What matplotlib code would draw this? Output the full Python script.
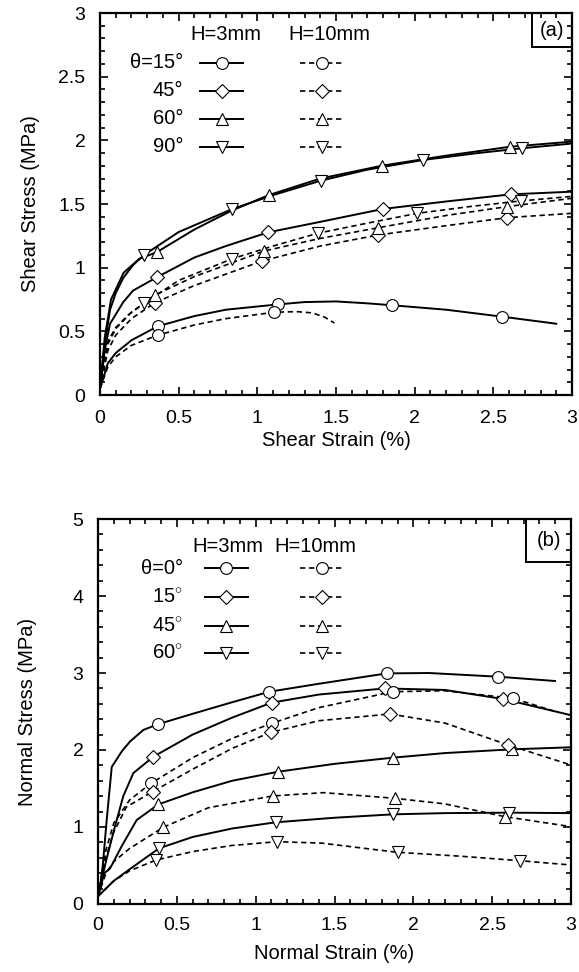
import matplotlib
matplotlib.use("Agg")
import matplotlib.pyplot as plt
from matplotlib.lines import Line2D
from matplotlib.patches import Rectangle
from matplotlib.ticker import MultipleLocator

plt.rcParams['font.family'] = ['Liberation Sans', 'DejaVu Sans']
plt.rcParams['mathtext.fontset'] = 'custom'
plt.rcParams['mathtext.rm'] = 'Liberation Sans'

# ---------------- Panel (a): shear ----------------
a_labels = ["\u03b8=15\u00b0", "45\u00b0", "60\u00b0", "90\u00b0"]
a_markers = ["o", "D", "^", "v"]

# H=3mm (solid)
a3_15_x = [0, 0.05, 0.1, 0.2, 0.367, 0.6, 0.8, 1.134, 1.3, 1.5, 1.7, 1.856, 2.2, 2.558, 2.9]
a3_15_y = [0.05, 0.25, 0.33, 0.43, 0.54, 0.62, 0.67, 0.712, 0.73, 0.735, 0.72, 0.705, 0.67, 0.615, 0.56]
a3_15_mx = [0.367, 1.134, 1.856, 2.558]
a3_15_my = [0.54, 0.712, 0.705, 0.615]

a3_45_x = [0, 0.03, 0.064, 0.148, 0.21, 0.36, 0.6, 0.8, 1.07, 1.4, 1.797, 2.2, 2.611, 3.0]
a3_45_y = [0.05, 0.35, 0.56, 0.73, 0.82, 0.924, 1.08, 1.17, 1.278, 1.36, 1.461, 1.52, 1.576, 1.597]
a3_45_mx = [0.36, 1.07, 1.797, 2.611]
a3_45_my = [0.924, 1.278, 1.461, 1.576]

a3_60_x = [0, 0.03, 0.07, 0.15, 0.25, 0.36, 0.6, 0.84, 1.075, 1.4, 1.792, 2.2, 2.608, 3.0]
a3_60_y = [0.05, 0.45, 0.75, 0.96, 1.07, 1.121, 1.3, 1.45, 1.571, 1.7, 1.801, 1.88, 1.95, 1.99]
a3_60_mx = [0.36, 1.075, 1.792, 2.608]
a3_60_my = [1.121, 1.571, 1.801, 1.95]

a3_90_x = [0, 0.03, 0.064, 0.1, 0.148, 0.21, 0.28, 0.5, 0.837, 1.1, 1.405, 1.7, 2.054, 2.4, 2.683, 3.0]
a3_90_y = [0.05, 0.4, 0.67, 0.8, 0.92, 1.02, 1.10, 1.28, 1.459, 1.57, 1.684, 1.77, 1.846, 1.9, 1.938, 1.975]
a3_90_mx = [0.28, 0.837, 1.405, 2.054, 2.683]
a3_90_my = [1.10, 1.459, 1.684, 1.846, 1.938]

# H=10mm (dashed)
a10_15_x = [0, 0.05, 0.1, 0.2, 0.367, 0.6, 0.8, 1.108, 1.25, 1.35, 1.43, 1.49]
a10_15_y = [0.05, 0.22, 0.3, 0.39, 0.47, 0.55, 0.6, 0.65, 0.655, 0.645, 0.61, 0.565]
a10_15_mx = [0.367, 1.108]
a10_15_my = [0.47, 0.65]

a10_45_x = [0, 0.05, 0.1, 0.2, 0.35, 0.6, 1.032, 1.4, 1.77, 2.2, 2.59, 3.0]
a10_45_y = [0.05, 0.35, 0.47, 0.6, 0.725, 0.86, 1.053, 1.17, 1.257, 1.33, 1.393, 1.427]
a10_45_mx = [0.35, 1.032, 1.77, 2.59]
a10_45_my = [0.725, 1.053, 1.257, 1.393]

a10_60_x = [0, 0.05, 0.1, 0.2, 0.35, 0.6, 1.043, 1.4, 1.77, 2.2, 2.59, 3.0]
a10_60_y = [0.05, 0.4, 0.52, 0.65, 0.786, 0.93, 1.131, 1.23, 1.314, 1.41, 1.48, 1.545]
a10_60_mx = [0.35, 1.043, 1.77, 2.59]
a10_60_my = [0.786, 1.131, 1.314, 1.48]

a10_90_x = [0, 0.05, 0.1, 0.18, 0.28, 0.5, 0.84, 1.1, 1.383, 1.7, 2.017, 2.35, 2.674, 3.0]
a10_90_y = [0.05, 0.42, 0.53, 0.63, 0.72, 0.9, 1.07, 1.17, 1.27, 1.35, 1.427, 1.48, 1.524, 1.56]
a10_90_mx = [0.28, 0.84, 1.383, 2.017, 2.674]
a10_90_my = [0.72, 1.07, 1.27, 1.427, 1.524]

# ---------------- Panel (b): normal ----------------
b_labels = ["\u03b8=0\u00b0", "15$^{\\circ}$", "45$^{\\circ}$", "60$^{\\circ}$"]
b_markers = ["o", "D", "^", "v"]

b3_0_x = [0, 0.013, 0.03, 0.055, 0.087, 0.15, 0.203, 0.287, 0.379, 0.6, 0.85, 1.087, 1.4, 1.831, 2.1, 2.539, 2.899]
b3_0_y = [0.1, 0.22, 0.5, 1.09, 1.78, 1.98, 2.11, 2.26, 2.334, 2.47, 2.62, 2.757, 2.86, 2.995, 3.0, 2.952, 2.896]
b3_0_mx = [0.379, 1.087, 1.831, 2.539]
b3_0_my = [2.334, 2.757, 2.995, 2.952]

b3_15_x = [0, 0.05, 0.1, 0.16, 0.224, 0.351, 0.6, 0.85, 1.101, 1.4, 1.82, 2.2, 2.571, 2.994]
b3_15_y = [0.1, 0.55, 0.95, 1.4, 1.70, 1.913, 2.2, 2.42, 2.615, 2.72, 2.80, 2.78, 2.662, 2.455]
b3_15_mx = [0.351, 1.101, 1.82, 2.571]
b3_15_my = [1.913, 2.615, 2.80, 2.662]

b3_45_x = [0, 0.04, 0.076, 0.15, 0.245, 0.383, 0.6, 0.85, 1.144, 1.5, 1.869, 2.2, 2.628, 3.0]
b3_45_y = [0.1, 0.4, 0.46, 0.75, 1.09, 1.294, 1.45, 1.6, 1.718, 1.82, 1.90, 1.96, 2.009, 2.035]
b3_45_mx = [0.383, 1.144, 1.869, 2.628]
b3_45_my = [1.294, 1.718, 1.90, 2.009]

b3_60_x = [0, 0.1, 0.2, 0.387, 0.6, 0.85, 1.129, 1.5, 1.869, 2.2, 2.609, 3.0]
b3_60_y = [0.1, 0.3, 0.45, 0.723, 0.87, 0.98, 1.061, 1.12, 1.164, 1.18, 1.186, 1.18]
b3_60_mx = [0.387, 1.129, 1.869, 2.609]
b3_60_my = [0.723, 1.061, 1.164, 1.186]

b10_0_x = [0, 0.05, 0.1, 0.2, 0.336, 0.6, 0.85, 1.101, 1.4, 1.869, 2.2, 2.634, 2.9]
b10_0_y = [0.1, 0.7, 1.05, 1.35, 1.567, 1.9, 2.15, 2.346, 2.55, 2.757, 2.77, 2.671, 2.5]
b10_0_mx = [0.336, 1.101, 1.869, 2.634]
b10_0_my = [1.567, 2.346, 2.757, 2.671]

b10_15_x = [0, 0.05, 0.097, 0.18, 0.347, 0.6, 0.85, 1.095, 1.4, 1.852, 2.2, 2.602, 3.0]
b10_15_y = [0.1, 0.6, 0.92, 1.26, 1.459, 1.75, 2.02, 2.229, 2.38, 2.468, 2.35, 2.065, 1.805]
b10_15_mx = [0.347, 1.095, 1.852, 2.602]
b10_15_my = [1.459, 2.229, 2.468, 2.065]

b10_45_x = [0, 0.05, 0.1, 0.2, 0.414, 0.7, 1.108, 1.43, 1.884, 2.2, 2.581, 3.0]
b10_45_y = [0.1, 0.4, 0.55, 0.72, 0.996, 1.25, 1.403, 1.446, 1.372, 1.3, 1.134, 1.004]
b10_45_mx = [0.414, 1.108, 1.884, 2.581]
b10_45_my = [0.996, 1.403, 1.372, 1.134]

b10_60_x = [0, 0.1, 0.2, 0.368, 0.6, 0.85, 1.137, 1.42, 1.7, 1.901, 2.3, 2.676, 3.0]
b10_60_y = [0.1, 0.3, 0.43, 0.571, 0.68, 0.76, 0.809, 0.79, 0.72, 0.671, 0.62, 0.562, 0.506]
b10_60_mx = [0.368, 1.137, 1.901, 2.676]
b10_60_my = [0.571, 0.809, 0.671, 0.562]

# ---------------- drawing ----------------
DASH = (0, (3.2, 2.2))
MS = {"o": 8.5, "D": 7.5, "^": 8.5, "v": 8.5}
FS_TICK = 14
FS_LABEL = 14.5
FS_LEG = 14.5


def draw_series(ax, x, y, mx, my, marker, dashed):
    ls = DASH if dashed else '-'
    lw = 1.2 if dashed else 1.4
    ax.plot(x, y, color='black', linestyle=ls, linewidth=lw, zorder=2)
    ax.plot(mx, my, linestyle='none', marker=marker, markersize=MS[marker],
            markerfacecolor='white', markeredgecolor='black', markeredgewidth=0.8, zorder=3)


def style_axes(ax, ymax, ymajor, yminor, xlabel, ylabel, tag, tagbox, xpad, xlab_y):
    ax.set_xlim(0, 3)
    ax.set_ylim(0, ymax)
    ax.xaxis.set_major_locator(MultipleLocator(0.5))
    ax.xaxis.set_minor_locator(MultipleLocator(0.1))
    ax.yaxis.set_major_locator(MultipleLocator(ymajor))
    ax.yaxis.set_minor_locator(MultipleLocator(yminor))
    ax.xaxis.set_major_formatter(plt.FuncFormatter(lambda v, p: ('%g' % v)))
    ax.yaxis.set_major_formatter(plt.FuncFormatter(lambda v, p: ('%g' % v)))
    ax.tick_params(which='both', direction='in', top=True, right=True, labelsize=FS_TICK, width=1.2)
    ax.tick_params(which='major', length=6)
    ax.tick_params(which='minor', length=3.5)
    ax.tick_params(axis='x', which='major', pad=xpad)
    ax.tick_params(axis='y', which='major', pad=10.5)
    for s in ax.spines.values():
        s.set_linewidth(1.6)
    ax.set_xlabel(xlabel, fontsize=FS_LABEL)
    ax.set_ylabel(ylabel, fontsize=FS_LABEL)
    ax.xaxis.set_label_coords(0.5, xlab_y)
    ax.yaxis.set_label_coords(-0.128, 0.5)
    bx, by, bw, bh = tagbox
    ax.add_patch(Rectangle((bx, by), bw, bh, transform=ax.transAxes, fill=False,
                           edgecolor='black', linewidth=1.4, zorder=5, clip_on=False))
    ax.text(bx + bw / 2, by + bh / 2, tag, transform=ax.transAxes, ha='center', va='center',
            fontsize=FS_LEG, zorder=6)


def draw_legend(ax, labels, markers, rows_y, header_y, lab_x, solid_x, dash_x, head_x):
    ax.text(head_x[0], header_y, "H=3mm", transform=ax.transAxes, ha='center', va='center', fontsize=FS_LEG)
    ax.text(head_x[1], header_y, "H=10mm", transform=ax.transAxes, ha='center', va='center', fontsize=FS_LEG)
    for lab, mk, yy in zip(labels, markers, rows_y):
        ax.text(lab_x, yy, lab, transform=ax.transAxes, ha='right', va='center', fontsize=FS_LEG)
        for (x0, x1), ls, lw in ((solid_x, '-', 1.4), (dash_x, DASH, 1.2)):
            ax.add_line(Line2D([x0, x1], [yy, yy], transform=ax.transAxes, color='black',
                               linestyle=ls, linewidth=lw))
            ax.add_line(Line2D([(x0 + x1) / 2], [yy], transform=ax.transAxes, linestyle='none',
                               marker=mk, markersize=MS[mk], markerfacecolor='white',
                               markeredgecolor='black', markeredgewidth=0.8))


fig = plt.figure(figsize=(5.79, 9.72), dpi=100)
axa = fig.add_axes([0.1727, 0.5936, 0.8152, 0.393])
axb = fig.add_axes([0.1693, 0.0700, 0.8169, 0.396])

draw_series(axa, a3_15_x, a3_15_y, a3_15_mx, a3_15_my, 'o', False)
draw_series(axa, a3_45_x, a3_45_y, a3_45_mx, a3_45_my, 'D', False)
draw_series(axa, a3_60_x, a3_60_y, a3_60_mx, a3_60_my, '^', False)
draw_series(axa, a3_90_x, a3_90_y, a3_90_mx, a3_90_my, 'v', False)
draw_series(axa, a10_15_x, a10_15_y, a10_15_mx, a10_15_my, 'o', True)
draw_series(axa, a10_45_x, a10_45_y, a10_45_mx, a10_45_my, 'D', True)
draw_series(axa, a10_60_x, a10_60_y, a10_60_mx, a10_60_my, '^', True)
draw_series(axa, a10_90_x, a10_90_y, a10_90_mx, a10_90_my, 'v', True)
style_axes(axa, 3, 0.5, 0.1, "Shear Strain (%)", "Shear Stress (MPa)", "(a)",
           (0.915, 0.911, 0.085, 0.089), 11, -0.095)
draw_legend(axa, a_labels, a_markers, [0.870, 0.797, 0.723, 0.650], 0.943, 0.176,
            (0.212, 0.303), (0.424, 0.515), (0.267, 0.487))

draw_series(axb, b3_0_x, b3_0_y, b3_0_mx, b3_0_my, 'o', False)
draw_series(axb, b3_15_x, b3_15_y, b3_15_mx, b3_15_my, 'D', False)
draw_series(axb, b3_45_x, b3_45_y, b3_45_mx, b3_45_my, '^', False)
draw_series(axb, b3_60_x, b3_60_y, b3_60_mx, b3_60_my, 'v', False)
draw_series(axb, b10_0_x, b10_0_y, b10_0_mx, b10_0_my, 'o', True)
draw_series(axb, b10_15_x, b10_15_y, b10_15_mx, b10_15_my, 'D', True)
draw_series(axb, b10_45_x, b10_45_y, b10_45_mx, b10_45_my, '^', True)
draw_series(axb, b10_60_x, b10_60_y, b10_60_mx, b10_60_my, 'v', True)
style_axes(axb, 5, 1, 0.2, "Normal Strain (%)", "Normal Stress (MPa)", "(b)",
           (0.905, 0.889, 0.095, 0.111), 9.5, -0.105)
draw_legend(axb, b_labels, b_markers, [0.872, 0.798, 0.722, 0.652], 0.928, 0.18,
            (0.226, 0.317), (0.427, 0.52), (0.275, 0.459))

fig.savefig("out.png", dpi=100)
